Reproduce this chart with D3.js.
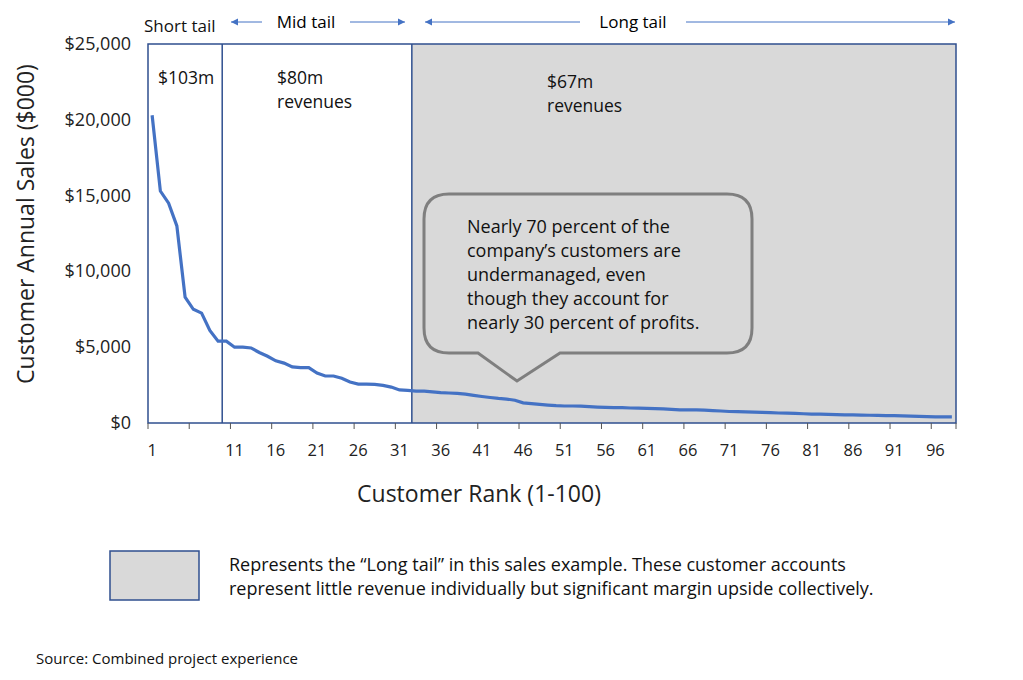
<!DOCTYPE html>
<html><head><meta charset="utf-8">
<script src="https://cdn.jsdelivr.net/npm/d3@7"></script>
<style>body{margin:0;background:#fff}svg{font-family:"Open Sans","Noto Sans",sans-serif}</style>
</head><body><svg id="c" width="1023" height="680"></svg>
<script>
const ranks = d3.range(1, 99);
const sales = [20300,15300,14500,13000,8300,7500,7250,6100,5400,5400,
5000,5000,4950,4650,4400,4100,3950,3700,3650,3650,
3300,3100,3100,2950,2700,2570,2570,2550,2480,2370,
2180,2150,2100,2100,2050,2000,1980,1950,1900,1820,
1750,1680,1620,1580,1500,1330,1280,1230,1180,1140,
1120,1120,1110,1080,1050,1030,1020,1010,990,980,
970,950,930,900,870,860,860,850,820,790,
760,750,740,720,700,680,660,650,640,610,
590,580,570,550,540,530,520,510,500,490,
480,470,460,440,420,400,400,400];
const yTicks = [0,5000,10000,15000,20000,25000];
const xTickLabels = [1,11,16,21,26,31,36,41,46,51,56,61,66,71,76,81,86,91,96];
const tailBounds = [9, 32];
const calloutLines = ["Nearly 70 percent of the","company’s customers are","undermanaged, even","though they account for","nearly 30 percent of profits."];

const svg = d3.select("#c");
const L=148,R=956,T=44,B=423;
const x = d3.scaleBand().domain(ranks).range([L,R]);
const y = d3.scaleLinear().domain([0,25000]).range([B,T]);
const bx = i => L + i*x.step();
const blue="#2f4f8f";

svg.append("rect").attr("x",bx(tailBounds[1])).attr("y",T).attr("width",R-bx(tailBounds[1])).attr("height",B-T).attr("fill","#d9d9d9");
svg.append("rect").attr("x",L).attr("y",T).attr("width",R-L).attr("height",B-T).attr("fill","none").attr("stroke",blue).attr("stroke-width",1.5);
tailBounds.forEach(b=>svg.append("line").attr("x1",bx(b)).attr("x2",bx(b)).attr("y1",T).attr("y2",B).attr("stroke",blue).attr("stroke-width",1.5));

const tg = svg.append("g");
for(let i=0;i<=98;i+=5){ tg.append("line").attr("x1",bx(i)).attr("x2",bx(i)).attr("y1",B).attr("y2",B+6).attr("stroke","#555"); }
tg.append("line").attr("x1",bx(98)).attr("x2",bx(98)).attr("y1",B).attr("y2",B+6).attr("stroke","#555");
xTickLabels.forEach(r=>tg.append("text").attr("x",x(r)+x.bandwidth()/2).attr("y",B+33).attr("text-anchor","middle").attr("font-size",16.5).attr("fill","#222").text(r));
yTicks.forEach(v=>svg.append("text").attr("x",131).attr("y",y(v)+6).attr("text-anchor","end").attr("font-size",18).attr("fill","#222").text("$"+d3.format(",")(v)));

svg.append("path").datum(sales).attr("fill","none").attr("stroke","#4472c4").attr("stroke-width",3.2)
 .attr("d",d3.line().x((d,i)=>x(ranks[i])+x.bandwidth()/2).y(d=>y(d)));

const cx0=424,cx1=752,cy0=194,cy1=353,r=25;
const p=`M${cx0+r},${cy0} H${cx1-r} Q${cx1},${cy0} ${cx1},${cy0+r} V${cy1-r} Q${cx1},${cy1} ${cx1-r},${cy1} H560 L517,381 L478,${cy1} H${cx0+r} Q${cx0},${cy1} ${cx0},${cy1-r} V${cy0+r} Q${cx0},${cy0} ${cx0+r},${cy0} Z`;
svg.append("path").attr("d",p).attr("fill","#d9d9d9").attr("stroke","#7f7f7f").attr("stroke-width",3);
calloutLines.forEach((t,i)=>svg.append("text").attr("x",467).attr("y",233+i*24).attr("font-size",18).attr("fill","#111").text(t));

const lab=(t,xx,yy,s=17.5)=>svg.append("text").attr("x",xx).attr("y",yy).attr("font-size",s).attr("fill","#111").text(t);
lab("$103m",158,84);lab("$80m",277,84);lab("revenues",277,108);lab("$67m",547,88);lab("revenues",547,112);
lab("Short tail",144,32,17);
svg.append("text").attr("x",306).attr("y",28).attr("text-anchor","middle").attr("font-size",17).text("Mid tail");
svg.append("text").attr("x",633).attr("y",28).attr("text-anchor","middle").attr("font-size",17).text("Long tail");
const arrowLine=(x1,x2)=>svg.append("line").attr("x1",x1).attr("x2",x2).attr("y1",22).attr("y2",22).attr("stroke","#4472c4").attr("stroke-width",1);
const head=(xx,dir)=>svg.append("path").attr("d",`M${xx},22 l${-dir*7},-3.5 v7 z`).attr("fill","#4472c4");
arrowLine(231,262);head(231,-1);arrowLine(350,405);head(405,1);
arrowLine(425,580);head(425,-1);arrowLine(686,955);head(955,1);

svg.append("text").attr("transform","translate(34,224) rotate(-90)").attr("text-anchor","middle").attr("font-size",23).attr("fill","#222").text("Customer Annual Sales ($000)");
svg.append("text").attr("x",479).attr("y",502).attr("text-anchor","middle").attr("font-size",23).attr("fill","#222").text("Customer Rank (1-100)");

svg.append("rect").attr("x",110).attr("y",551).attr("width",89).attr("height",49).attr("fill","#d9d9d9").attr("stroke",blue).attr("stroke-width",1.5);
lab("Represents the “Long tail” in this sales example. These customer accounts",229,571,18);
lab("represent little revenue individually but significant margin upside collectively.",229,595,18);
lab("Source: Combined project experience",36,664,15);
</script></body></html>
